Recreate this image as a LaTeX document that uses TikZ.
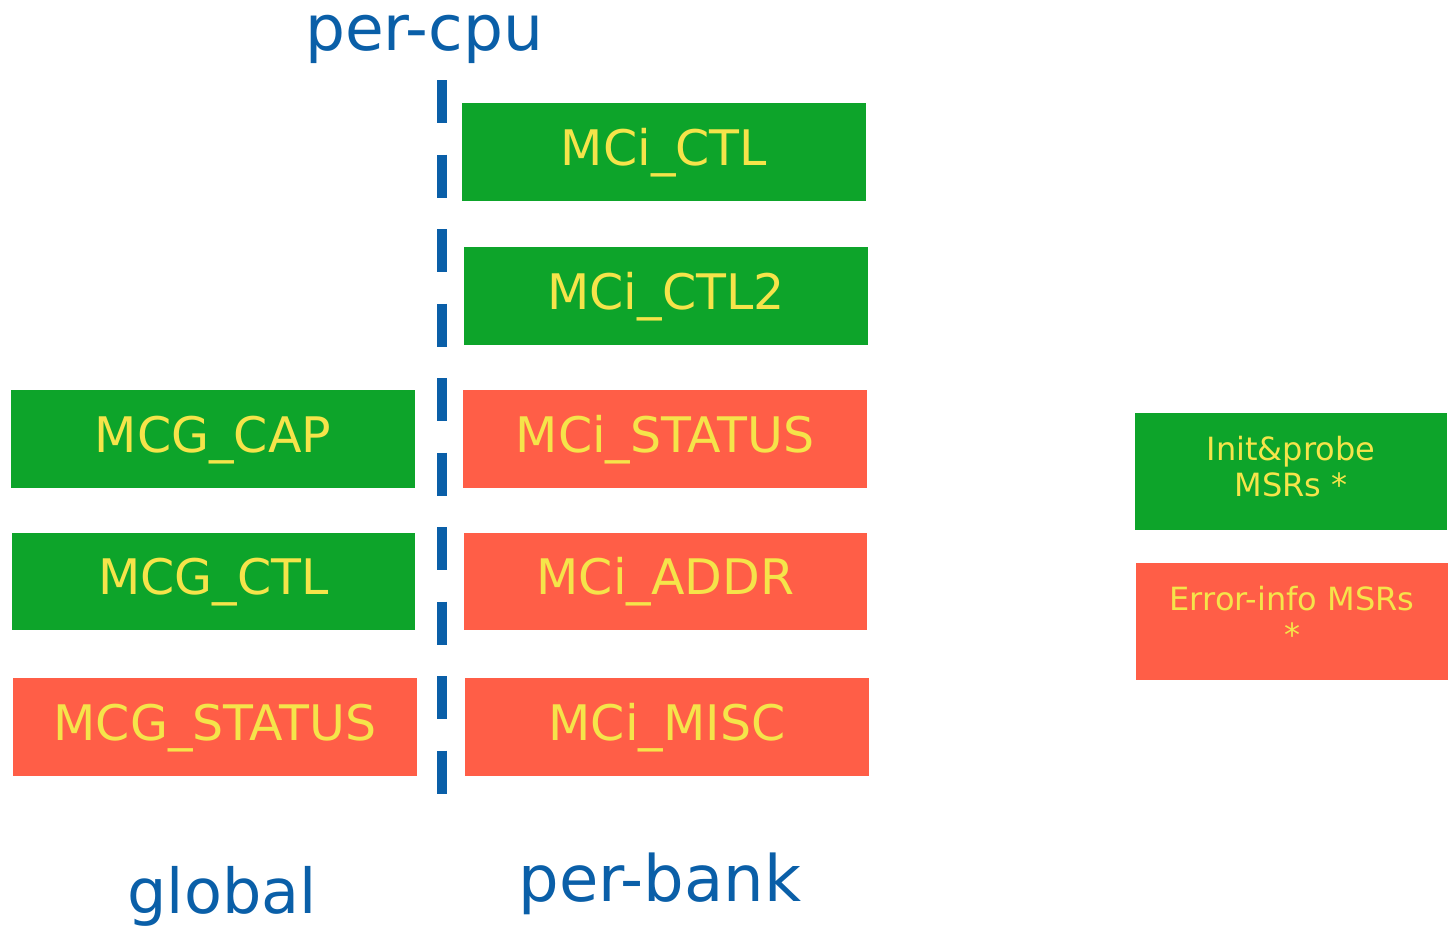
\documentclass[tikz,border=0pt]{standalone}
\usepackage{fontspec}
\setmainfont{DejaVu Sans}
\definecolor{regGreen}{HTML}{0DA42A}
\definecolor{regRed}{HTML}{FF5E47}
\definecolor{regText}{HTML}{F5E44A}
\definecolor{regBlue}{HTML}{0A5FA8}
\begin{document}
\begin{tikzpicture}[x=1pt,y=-1pt,
  reg/.style={inner sep=0pt, minimum width=404pt, minimum height=98pt,
    text=regText, font=\fontsize{49}{58}\selectfont,
    text height=26pt, text depth=0pt},
  greenreg/.style={reg, fill=regGreen},
  redreg/.style={reg, fill=regRed},
  legend/.style={inner sep=0pt, minimum width=312pt, minimum height=117pt},
  legendtext/.style={inner sep=0pt, text=regText,
    font=\fontsize{32}{36}\selectfont, align=center, yshift=5pt},
  heading/.style={anchor=base, text=regBlue, inner sep=0pt}]
\useasboundingbox (0,0) rectangle (1451,926);

% per-bank registers
\node[greenreg] (ctl)    at (664,152) {MCi\_CTL};
\node[greenreg] (ctltwo) at (666,296) {MCi\_CTL2};
\node[redreg]   (status) at (665,439) {MCi\_STATUS};
\node[redreg, minimum width=403pt, minimum height=97pt] (addr) at (665.5,581.5) {MCi\_ADDR};
\node[redreg]   (misc)   at (667,727) {MCi\_MISC};

% global registers
\node[greenreg] (gcap)    at (213,439) {MCG\_CAP};
\node[greenreg, minimum width=403pt, minimum height=97pt] (gctl) at (213.5,581.5) {MCG\_CTL};
\node[redreg]   (gstatus) at (215,727) {MCG\_STATUS};

% legend
\node[legend, fill=regGreen,
  label={[legendtext]center:{Init\&probe\\MSRs *}}] (keyinit) at (1291,471.5) {};
\node[legend, fill=regRed,
  label={[legendtext]center:{Error-info MSRs\\*}}] (keyerr) at (1292,621) {};

% per-cpu divider
\coordinate (divtop) at (442,80);
\coordinate (divbot) at (442,795);
\draw[regBlue, line width=10pt, dash pattern=on 43pt off 31.5pt] (divtop) -- (divbot);

% headings
\node[heading, font=\fontsize{63}{70}\selectfont] (percpu)  at (424,50)  {per-cpu};
\node[heading, font=\fontsize{62}{70}\selectfont] (global)  at (222,913) {global};
\node[heading, font=\fontsize{64}{70}\selectfont] (perbank) at (660,901) {per-bank};
\end{tikzpicture}
\end{document}
